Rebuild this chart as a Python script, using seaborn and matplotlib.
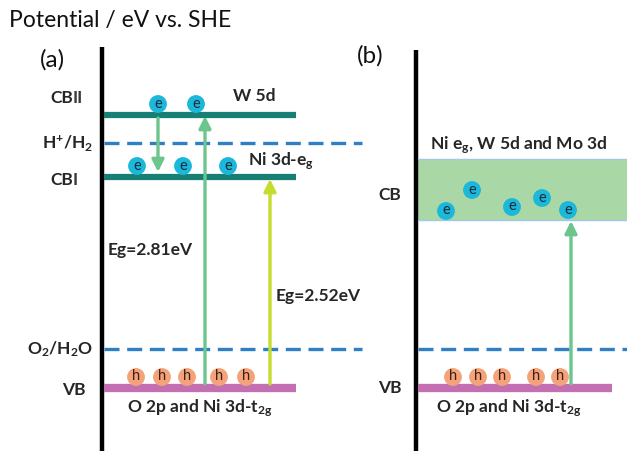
import matplotlib
matplotlib.use("Agg")
import matplotlib.pyplot as plt
import seaborn as sns
import pandas as pd

sns.set_theme(style="white")
plt.rcParams['font.family'] = ['Lato', 'DejaVu Sans']
plt.rcParams['mathtext.fontset'] = 'custom'
plt.rcParams['mathtext.rm'] = 'Lato:bold'
plt.rcParams['mathtext.it'] = 'Lato:bold'
plt.rcParams['mathtext.bf'] = 'Lato:bold'
plt.rcParams['mathtext.default'] = 'rm'

# ---- data (schematic levels, in image units) ----
a_level_names = ["CB", "CB", "VB"]
a_level_roman = ["II", "I", ""]
a_level_y = [115, 177, 388]
a_level_label_y = [98, 180, 390]
a_level_desc = ["W 5d", "Ni 3d-e$_g$", "O 2p and Ni 3d-t$_{2g}$"]
redox_names = ["H$^{+}$/H$_2$", "O$_2$/H$_2$O"]
redox_y = [143, 349]
a_electron_x = [158, 196, 137, 183, 228]
a_electron_y = [104, 104, 166, 166, 166]
a_hole_x = [136, 162, 187, 219, 246]
hole_y = [377, 377, 377, 377, 377]
gap_labels = ["Eg=2.81eV", "Eg=2.52eV"]

b_cb_top = 159
b_cb_bottom = 220
b_vb_y = 388
b_electron_x = [446, 472, 512, 542, 568]
b_electron_y = [211, 190, 207, 198, 210]
b_hole_x = [453, 478, 502, 536, 560]

teal = "#177f74"
pink = "#c56fb3"
dash_blue = "#2f7fc6"
green = "#6cc58d"
yellow_green = "#c6dc2c"
cyan = "#1cb8da"
orange = "#f4a27a"
FS = 12.5

fig = plt.figure(figsize=(6.27, 4.51), dpi=100)
ax = fig.add_axes([0, 0, 1, 1])
ax.set_xlim(0, 627)
ax.set_ylim(451, 0)
ax.axis("off")

# axes lines
ax.plot([102, 102], [47, 451], color="black", lw=3.2, solid_capstyle="butt")
ax.plot([416, 416], [50, 451], color="black", lw=3.2, solid_capstyle="butt")

ax.text(9, 20, "Potential / eV vs. SHE", fontsize=16.5, va="center", ha="left", color="#111111")
ax.text(40, 60, "(a)", fontsize=17.5, va="center", ha="left", color="#111111")
ax.text(357, 56, "(b)", fontsize=17.5, va="center", ha="left", color="#111111")

# panel a levels
colors_a = [teal, teal, pink]
widths_a = [4.5, 4.5, 6]
for name, rom, y, ly, c, w in zip(a_level_names, a_level_roman, a_level_y, a_level_label_y, colors_a, widths_a):
    ax.plot([104, 296], [y, y], color=c, lw=w, solid_capstyle="butt")
    if rom:
        t = ax.text(50, ly, name, fontsize=FS, fontweight="bold", ha="left", va="center")
        ax.annotate(rom, xy=(1.0, 0.5), xycoords=t, fontsize=FS, fontweight="bold",
                    ha="left", va="center", color="#3a3a3a")
    else:
        ax.text(86, ly, name, fontsize=FS, fontweight="bold", ha="right", va="center")

ax.text(233, 96, a_level_desc[0], fontsize=FS, fontweight="bold", ha="left", va="center")
ax.text(248, 161, a_level_desc[1], fontsize=FS, fontweight="bold", ha="left", va="center")
ax.text(200, 408, a_level_desc[2], fontsize=FS, fontweight="bold", ha="center", va="center")

# redox dashed lines
for name, y in zip(redox_names, redox_y):
    ax.plot([104, 362], [y, y], color=dash_blue, lw=2.4, dashes=(4.5, 2.3))
    ax.text(93, y, name, fontsize=FS, fontweight="bold", ha="right", va="center")
ax.plot([418, 627], [redox_y[1], redox_y[1]], color=dash_blue, lw=2.4, dashes=(4.5, 2.3))

# arrows
arrow_kw = dict(arrowstyle="-|>,head_length=0.6,head_width=0.3", lw=2.4, shrinkA=0, shrinkB=0)
ax.annotate("", xy=(158, 172), xytext=(158, 118), arrowprops=dict(color=green, **arrow_kw))
ax.annotate("", xy=(205, 116), xytext=(205, 384), arrowprops=dict(color=green, **arrow_kw))
ax.annotate("", xy=(270, 179), xytext=(270, 384), arrowprops=dict(color=yellow_green, **arrow_kw))
ax.annotate("", xy=(571, 221), xytext=(571, 384), arrowprops=dict(color=green, **arrow_kw))

ax.text(108, 250, gap_labels[0], fontsize=FS, fontweight="bold", ha="left", va="center")
ax.text(276, 296, gap_labels[1], fontsize=FS, fontweight="bold", ha="left", va="center")

# panel b
ax.fill_between([418, 627], b_cb_top, b_cb_bottom, color="#a9d7a6", lw=0)
ax.plot([418, 627], [b_cb_top, b_cb_top], color="#9fc8e8", lw=1)
ax.plot([418, 627], [b_cb_bottom, b_cb_bottom], color="#9fc8e8", lw=1)
ax.plot([418, 612], [b_vb_y, b_vb_y], color=pink, lw=6, solid_capstyle="butt")
ax.text(378, 195, "CB", fontsize=FS, fontweight="bold", ha="left", va="center")
ax.text(378, 388, "VB", fontsize=FS, fontweight="bold", ha="left", va="center")
ax.text(430, 145, "Ni e$_g$, W 5d and Mo 3d", fontsize=FS, fontweight="bold", ha="left", va="center")
ax.text(509, 408, "O 2p and Ni 3d-t$_{2g}$", fontsize=FS, fontweight="bold", ha="center", va="center")

# electrons and holes via seaborn
el = pd.DataFrame({"x": a_electron_x + b_electron_x, "y": a_electron_y + b_electron_y})
ho = pd.DataFrame({"x": a_hole_x + b_hole_x, "y": hole_y + hole_y})
sns.scatterplot(data=el, x="x", y="y", ax=ax, s=165, color=cyan, edgecolor="none", zorder=5)
sns.scatterplot(data=ho, x="x", y="y", ax=ax, s=165, color=orange, edgecolor="none", zorder=5)
for x, y in zip(el.x, el.y):
    ax.text(x, y - 0.5, "e", fontsize=10.5, ha="center", va="center", color="#1a2a40", zorder=6)
for x, y in zip(ho.x, ho.y):
    ax.text(x, y - 0.5, "h", fontsize=10.5, ha="center", va="center", color="#3a2010", zorder=6)

ax.set_xlim(0, 627)
ax.set_ylim(451, 0)
ax.axis("off")
fig.savefig("out.png", dpi=100)
